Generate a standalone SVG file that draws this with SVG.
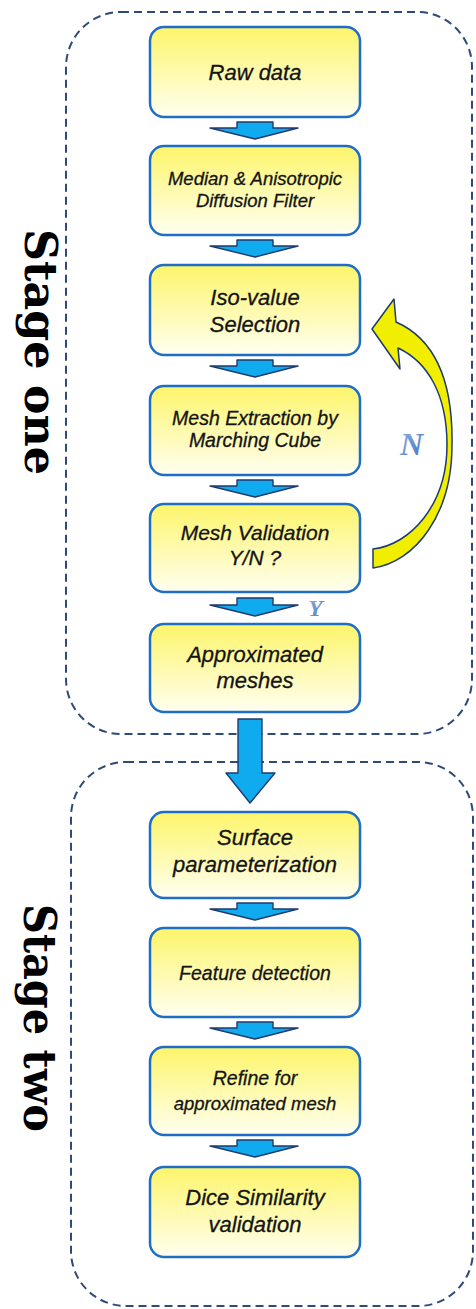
<svg xmlns="http://www.w3.org/2000/svg" width="476" height="1309" viewBox="0 0 476 1309">
<defs>
<linearGradient id="boxg" x1="0" y1="0" x2="0" y2="1">
<stop offset="0" stop-color="#fdf56a"/>
<stop offset="1" stop-color="#fffff0"/>
</linearGradient>
<linearGradient id="ng" x1="0" y1="0" x2="1" y2="1">
<stop offset="0" stop-color="#9ab4e0"/>
<stop offset="1" stop-color="#3f6fc0"/>
</linearGradient>
<style>
.stage{fill:none;stroke:#2e4a78;stroke-width:2;stroke-dasharray:8 5}
.box{fill:url(#boxg);stroke:#1e6ec8;stroke-width:2.5}
.t{font-family:"Liberation Sans",Arial,sans-serif;font-style:italic;fill:#141414;text-anchor:middle;stroke:#141414;stroke-width:0.3}
.lbl{font-family:"DejaVu Serif",serif;font-weight:bold;font-size:44px;fill:#000;text-anchor:middle}
.sa{fill:#10aaee;stroke:#1f3a6e;stroke-width:1.4;stroke-linejoin:round}
.yn{font-family:"Liberation Serif",serif;font-weight:bold;font-style:italic;fill:url(#ng)}
</style>
</defs>

<g id="stage-one">
<rect class="stage" x="66" y="12" width="406" height="722" rx="55"/>
<text class="lbl" transform="translate(25,352) rotate(90)" textLength="246" lengthAdjust="spacingAndGlyphs">Stage one</text>
</g>
<g id="stage-two">
<rect class="stage" x="71" y="762" width="402" height="544" rx="55"/>
<text class="lbl" transform="translate(24,1018) rotate(90)" textLength="228" lengthAdjust="spacingAndGlyphs">Stage two</text>
</g>

<g id="connectors">
<path class="sa" d="M237,122 H273 V128 H298 L255,139 L210,128 H237 Z"/>
<path class="sa" d="M237,240 H273 V246 H298 L255,257 L210,246 H237 Z"/>
<path class="sa" d="M237,360 H273 V366 H298 L255,377 L210,366 H237 Z"/>
<path class="sa" d="M237,480 H273 V486 H298 L255,497 L210,486 H237 Z"/>
<path class="sa" d="M237,598 H273 V605 H298 L255,616 L210,605 H237 Z"/>
<path class="sa" d="M238,719 H262 V773 H275 L250,803 L226,773 H238 Z" stroke-width="1.6"/>
<path class="sa" d="M237,903 H273 V909 H298 L255,920 L210,909 H237 Z"/>
<path class="sa" d="M237,1022 H273 V1028 H298 L255,1039 L210,1028 H237 Z"/>
<path class="sa" d="M237,1140 H273 V1146 H298 L255,1157 L210,1146 H237 Z"/>
<path id="loop-arrow" d="M372,329 L394,299 L396,322 C437,340 453,385 452,445 C452,515 415,562 373,568 L373,549 C410,545 447,505 447,445 C447,395 428,362 398,348 L400,369 Z" fill="#f2ee00" stroke="#1f3a6e" stroke-width="1.5" stroke-linejoin="round"/>
<text class="yn" x="400" y="455" font-size="32">N</text>
<text class="yn" x="308" y="616" font-size="24">Y</text>
</g>

<g id="raw-data">
<rect class="box" x="150" y="27" width="210" height="90" rx="14"/>
<text class="t" x="255" y="80" font-size="22">Raw data</text>
</g>
<g id="filter">
<rect class="box" x="150" y="146" width="210" height="89" rx="14"/>
<text class="t" x="255" y="185" font-size="18.5">Median &amp; Anisotropic</text>
<text class="t" x="255" y="207" font-size="18.5">Diffusion Filter</text>
</g>
<g id="iso-value">
<rect class="box" x="150" y="265" width="210" height="90" rx="14"/>
<text class="t" x="255" y="305" font-size="22">Iso-value</text>
<text class="t" x="255" y="332" font-size="22">Selection</text>
</g>
<g id="mesh-extraction">
<rect class="box" x="150" y="386" width="210" height="89" rx="14"/>
<text class="t" x="255" y="425" font-size="19.5">Mesh Extraction by</text>
<text class="t" x="255" y="447" font-size="19.5">Marching Cube</text>
</g>
<g id="mesh-validation">
<rect class="box" x="150" y="504" width="210" height="88" rx="14"/>
<text class="t" x="255" y="540" font-size="21">Mesh Validation</text>
<text class="t" x="255" y="565" font-size="21">Y/N ?</text>
</g>
<g id="approx-meshes">
<rect class="box" x="150" y="624" width="210" height="88" rx="14"/>
<text class="t" x="255" y="662" font-size="22">Approximated</text>
<text class="t" x="255" y="688" font-size="22">meshes</text>
</g>
<g id="surface">
<rect class="box" x="150" y="812" width="210" height="86" rx="14"/>
<text class="t" x="255" y="845" font-size="22">Surface</text>
<text class="t" x="255" y="872" font-size="22">parameterization</text>
</g>
<g id="feature">
<rect class="box" x="150" y="928" width="210" height="89" rx="14"/>
<text class="t" x="255" y="980" font-size="19.5">Feature detection</text>
</g>
<g id="refine">
<rect class="box" x="150" y="1047" width="210" height="88" rx="14"/>
<text class="t" x="255" y="1085" font-size="19.5">Refine for</text>
<text class="t" x="255" y="1110" font-size="18.5">approximated mesh</text>
</g>
<g id="dice">
<rect class="box" x="150" y="1167" width="210" height="90" rx="14"/>
<text class="t" x="255" y="1205" font-size="22">Dice Similarity</text>
<text class="t" x="255" y="1232" font-size="22">validation</text>
</g>
</svg>
